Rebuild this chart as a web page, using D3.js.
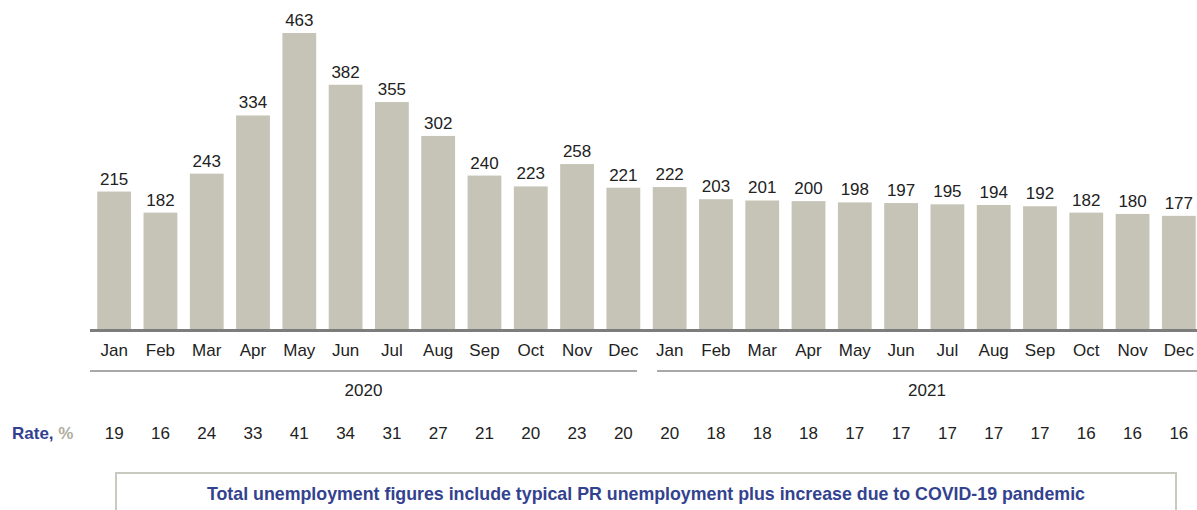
<!DOCTYPE html>
<html>
<head>
<meta charset="utf-8">
<script src="https://cdn.jsdelivr.net/npm/d3@7"></script>
<style>
  body { margin: 0; background: #fff; }
  text { font-family: Arial, "Liberation Sans", sans-serif; }
</style>
</head>
<body>
<svg id="chart" width="1197" height="510"></svg>
<script>
// data
var months = ["Jan","Feb","Mar","Apr","May","Jun","Jul","Aug","Sep","Oct","Nov","Dec"];
var years = ["2020", "2021"];
var values = [215,182,243,334,463,382,355,302,240,223,258,221,
              222,203,201,200,198,197,195,194,192,182,180,177];
var rates = [19,16,24,33,41,34,31,27,21,20,23,20,
             20,18,18,18,17,17,17,17,17,16,16,16];
var note = "Total unemployment figures include typical PR unemployment plus increase due to COVID-19 pandemic";

var keys = [];
years.forEach(function(y) { months.forEach(function(m) { keys.push(y + "-" + m); }); });

var baseY = 329;
var svg = d3.select("#chart");

var x = d3.scaleBand().domain(keys).range([91, 1202])
  .paddingInner(0.27).paddingOuter(0.135);
var y = d3.scaleLinear().domain([0, 463]).range([baseY, 33]);

// bars
svg.selectAll(".bar")
  .data(values)
  .enter().append("rect")
  .attr("class", "bar")
  .attr("x", function(d, i) { return x(keys[i]); })
  .attr("y", function(d) { return y(d); })
  .attr("width", x.bandwidth())
  .attr("height", function(d) { return baseY - y(d); })
  .attr("fill", "#c5c4b6");

// value labels
svg.selectAll(".val")
  .data(values)
  .enter().append("text")
  .attr("x", function(d, i) { return x(keys[i]) + x.bandwidth() / 2; })
  .attr("y", function(d) { return y(d) - 7; })
  .attr("text-anchor", "middle")
  .attr("font-size", 17)
  .attr("fill", "#222")
  .text(function(d) { return d; });

// baseline
svg.append("line")
  .attr("x1", 90).attr("x2", 1197)
  .attr("y1", 330.5).attr("y2", 330.5)
  .attr("stroke", "#7d7d7d").attr("stroke-width", 3);

// month labels
svg.selectAll(".mon")
  .data(keys)
  .enter().append("text")
  .attr("x", function(d) { return x(d) + x.bandwidth() / 2; })
  .attr("y", 356)
  .attr("text-anchor", "middle")
  .attr("font-size", 17)
  .attr("fill", "#222")
  .text(function(d) { return d.split("-")[1]; });

// year groups
var yearSpans = [[90, 637], [657, 1197]];
years.forEach(function(yr, i) {
  svg.append("line")
    .attr("x1", yearSpans[i][0]).attr("x2", yearSpans[i][1])
    .attr("y1", 371).attr("y2", 371)
    .attr("stroke", "#a8a8a8").attr("stroke-width", 2);
  svg.append("text")
    .attr("x", (yearSpans[i][0] + yearSpans[i][1]) / 2)
    .attr("y", 396)
    .attr("text-anchor", "middle")
    .attr("font-size", 17)
    .attr("fill", "#222")
    .text(yr);
});

// rate row
var rateLabel = svg.append("text")
  .attr("x", 12).attr("y", 439)
  .attr("font-size", 17).attr("font-weight", "bold");
rateLabel.append("tspan").attr("fill", "#33428f").text("Rate, ");
rateLabel.append("tspan").attr("fill", "#aeae9e").text("%");

svg.selectAll(".rate")
  .data(rates)
  .enter().append("text")
  .attr("x", function(d, i) { return x(keys[i]) + x.bandwidth() / 2; })
  .attr("y", 439)
  .attr("text-anchor", "middle")
  .attr("font-size", 17)
  .attr("fill", "#222")
  .text(function(d) { return d; });

// note box
svg.append("rect")
  .attr("x", 116).attr("y", 473)
  .attr("width", 1060).attr("height", 60)
  .attr("fill", "none")
  .attr("stroke", "#c9c9c0").attr("stroke-width", 2);

svg.append("text")
  .attr("x", 646).attr("y", 500)
  .attr("text-anchor", "middle")
  .attr("font-size", 17.8).attr("font-weight", "bold")
  .attr("fill", "#33428f")
  .text(note);
</script>
</body>
</html>
